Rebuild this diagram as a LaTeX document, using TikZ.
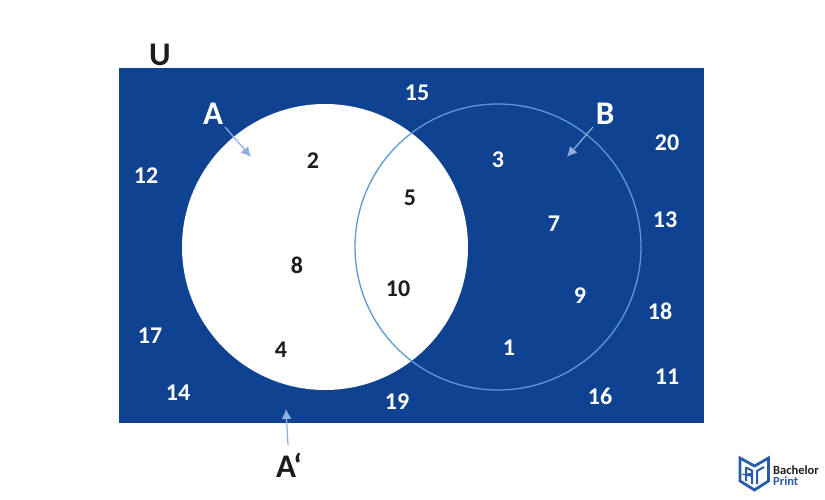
\documentclass[tikz,border=0pt]{standalone}
\usepackage{fontspec}
\setmainfont{Carlito}
\usetikzlibrary{arrows.meta}
\definecolor{navy}{HTML}{0F4391}
\definecolor{ringblue}{HTML}{5A9BD5}
\definecolor{arrowblue}{HTML}{8FAEDB}
\definecolor{inkblack}{HTML}{1D1D1B}
\definecolor{logoblue}{HTML}{2A5CAA}
\tikzset{
  num/.style={font=\fontsize{24}{24}\selectfont\bfseries,inner sep=0pt},
  wnum/.style={num,text=white},
  knum/.style={num,text=inkblack},
  setlabel/.style={font=\fontsize{33}{33}\selectfont\bfseries,inner sep=0pt},
  pointer/.style={arrowblue,line width=1.2pt,-{Latex[length=10pt,width=10pt]}},
  logoline/.style={logoblue,line width=2.8pt,line join=miter}
}
\begin{document}
\begin{tikzpicture}[x=1pt,y=-1pt]
\useasboundingbox (0,0) rectangle (825,500);
\fill[navy] (119,68) rectangle (704,423);
\fill[white] (325,247) circle[radius=143];
\draw[ringblue,line width=1.3pt] (498,247) circle[radius=143];
\node[setlabel,text=inkblack] (U) at (160,55) {U};
\node[setlabel,text=white] (A) at (213,114) {A};
\node[setlabel,text=white] (B) at (605,114) {B};
\node[setlabel,text=inkblack] (Ac) at (289,465) {A‘};
\coordinate (Atip) at (251,157);
\coordinate (Btip) at (567,157);
\coordinate (Actip) at (286,409);
\draw[pointer] (225,127) -- (Atip);
\draw[pointer] (593,127) -- (Btip);
\draw[pointer] (288,445) -- (Actip);
\node[wnum] (n15) at (417,93) {15};
\node[wnum] (n12) at (146,176) {12};
\node[wnum] (n20) at (667,142.5) {20};
\node[wnum] (n13) at (665,219.5) {13};
\node[wnum] (n18) at (660,311) {18};
\node[wnum] (n11) at (667,376.5) {11};
\node[wnum] (n16) at (600,396.5) {16};
\node[wnum] (n19) at (397,402) {19};
\node[wnum] (n14) at (178,392.5) {14};
\node[wnum] (n17) at (150,335.5) {17};
\node[wnum] (n3) at (498,160) {3};
\node[wnum] (n7) at (554,223.5) {7};
\node[wnum] (n9) at (580,296) {9};
\node[wnum] (n1) at (509,347.5) {1};
\node[knum] (n2) at (313,161) {2};
\node[knum] (n5) at (410,197.5) {5};
\node[knum] (n8) at (297,265) {8};
\node[knum] (n10) at (398,288.5) {10};
\node[knum] (n4) at (281,349.5) {4};
% logo
\draw[logoline] (740,458) -- (754.5,466) -- (768.5,458) -- (768.5,481) -- (754.5,490) -- (740,481) -- cycle;
\draw[logoline,line width=2pt] (746,467) -- (746,481) (746,467.5) -- (752,470.5) -- (752,474) -- (746,474.5) -- (752,476) -- (752,484);
\draw[logoline,line width=2pt] (757,484) -- (757,471) -- (764,467);
\node[inner sep=0pt,anchor=west,text=inkblack,font=\fontsize{12.5}{12.5}\selectfont\bfseries] (bach) at (773,470.5) {Bachelor};
\node[inner sep=0pt,anchor=west,text=logoblue,font=\fontsize{12.5}{12.5}\selectfont\bfseries] (print) at (773,481.5) {Print};
\end{tikzpicture}
\end{document}
